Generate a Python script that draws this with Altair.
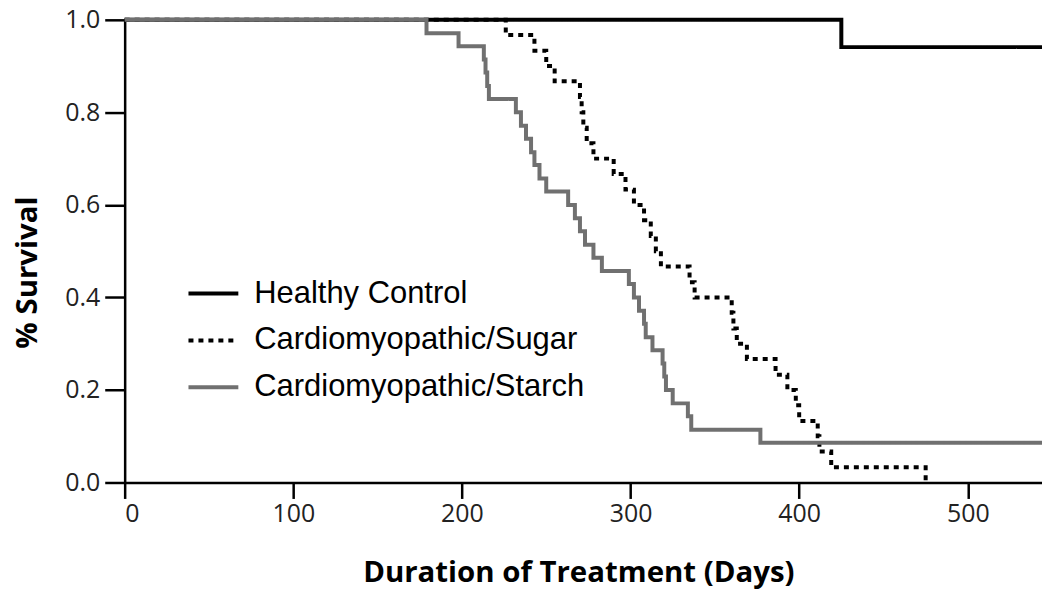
import altair as alt
import pandas as pd

# ---- data ----
healthy_days = [0, 425, 544]
healthy_surv = [1.0, 0.941, 0.941]

sugar_days = [0, 226, 243, 250, 255, 270, 271, 272, 274, 278, 290, 297, 302, 308, 312,
              315, 318, 335, 338, 360, 361, 363, 369, 386, 393, 398, 400, 411, 412, 419, 475]
sugar_surv = [1.0, 0.967, 0.933, 0.900, 0.867, 0.833, 0.800, 0.767, 0.733, 0.700, 0.667,
              0.633, 0.600, 0.567, 0.533, 0.500, 0.467, 0.433, 0.400, 0.367, 0.333, 0.300,
              0.267, 0.233, 0.200, 0.167, 0.133, 0.100, 0.067, 0.033, 0.0]

starch_days = [0, 179, 198, 213, 214, 215, 216, 232, 235, 238, 241, 243, 246, 250, 263,
               267, 270, 273, 278, 283, 299, 302, 305, 308, 309, 313, 319, 320, 321, 325,
               334, 336, 377, 544]
starch_surv = [1.0, 0.971, 0.943, 0.914, 0.886, 0.857, 0.829, 0.800, 0.771, 0.743, 0.714,
               0.686, 0.657, 0.629, 0.600, 0.571, 0.543, 0.514, 0.486, 0.457, 0.429, 0.400,
               0.371, 0.343, 0.314, 0.286, 0.257, 0.229, 0.200, 0.171, 0.143, 0.114, 0.086,
               0.086]

groups = ["Healthy Control", "Cardiomyopathic/Sugar", "Cardiomyopathic/Starch"]
x_ticks = [0, 100, 200, 300, 400, 500]
y_ticks = [0.0, 0.2, 0.4, 0.6, 0.8, 1.0]

rows = []
for g, d, s in [(groups[0], healthy_days, healthy_surv),
                (groups[1], sugar_days, sugar_surv),
                (groups[2], starch_days, starch_surv)]:
    for i, (dd, ss) in enumerate(zip(d, s)):
        rows.append({"group": g, "day": dd, "surv": ss, "order": i})
df = pd.DataFrame(rows)

lab_font = "Open Sans"

legend_opts = dict(title=None, orient="none", legendX=62, legendY=261,
                   symbolType="stroke", symbolSize=2500, symbolStrokeWidth=4,
                   labelFontSize=31, labelFont="Liberation Sans", labelColor="#000000",
                   labelOffset=14, labelLimit=0, clipHeight=27, rowPadding=15, padding=0)

chart = alt.Chart(df).mark_line(
    interpolate="step-after", strokeWidth=4, strokeCap="butt", strokeJoin="miter"
).encode(
    x=alt.X("day:Q",
            scale=alt.Scale(domain=[0, 544], nice=False, zero=False),
            axis=alt.Axis(values=x_ticks, title="Duration of Treatment (Days)",
                          grid=False, tickSize=16, labelPadding=3,
                          titleX=455, titleY=90, titleBaseline="middle")),
    y=alt.Y("surv:Q",
            scale=alt.Scale(domain=[0, 1], nice=False),
            axis=alt.Axis(values=y_ticks, format=".1f", title="% Survival",
                          grid=False, tickSize=20, labelPadding=5,
                          titleX=-97, titleY=253, titleAngle=-90,
                          titleBaseline="middle", titleAlign="center")),
    color=alt.Color("group:N",
                    scale=alt.Scale(domain=groups, range=["#000000", "#000000", "#707070"]),
                    legend=alt.Legend(**legend_opts)),
    strokeDash=alt.StrokeDash("group:N",
                              scale=alt.Scale(domain=groups, range=[[1, 0], [5, 5], [1, 0]]),
                              legend=alt.Legend(**legend_opts)),
    order="order:Q",
).properties(
    width=920, height=464,
    autosize=alt.AutoSizeParams(type="none"),
    padding={"left": 117, "top": 11, "right": 0, "bottom": 120},
).configure_view(stroke=None).configure_axis(
    domainColor="#000000", domainWidth=2.5, tickColor="#000000", tickWidth=2.5,
    labelFont=lab_font, labelFontSize=25, labelColor="#222222",
    titleFont=lab_font, titleFontSize=29.5, titleFontWeight="bold", titleColor="#000000",
)

chart.save("out.html", embed_options={"renderer": "svg", "actions": False})
